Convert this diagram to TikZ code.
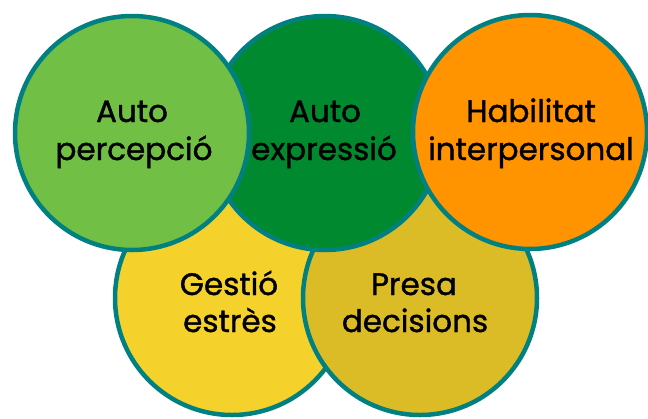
\documentclass[tikz,border=0pt]{standalone}
\usepackage{fontspec}
\setmainfont{Poppins}
\newfontfamily\lblfont{Poppins}[FakeBold=1.2]
\definecolor{lgreen}{RGB}{113,191,68}
\definecolor{dgreen}{RGB}{0,137,47}
\definecolor{orng}{RGB}{255,147,0}
\definecolor{yell}{RGB}{245,210,43}
\definecolor{mustard}{RGB}{219,188,39}
\definecolor{tealb}{RGB}{0,128,128}
\begin{document}
\begin{tikzpicture}[x=1pt,y=-1pt,
  circ/.style={circle,draw=tealb,line width=4.5pt,minimum size=234pt,inner sep=0pt},
  lbl/.style={anchor=base,inner sep=0pt,font=\lblfont\fontsize{31}{38}\selectfont}]
\useasboundingbox (0,0) rectangle (648,418);
% bottom row
\node[circ,fill=yell] (gest) at (232,298) {};
\node[circ,fill=mustard] (presa) at (420,298) {};
% top row
\node[circ,fill=dgreen] (expr) at (325,133) {};
\node[circ,fill=lgreen] (perc) at (132,133) {};
\node[circ,fill=orng] (hab) at (530,132) {};
% labels
\node[lbl] (perc1) at (132,122) {Auto};
\node[lbl] (perc2) at (134,160) {percepció};
\node[lbl] (expr1) at (325,122) {Auto};
\node[lbl] (expr2) at (324,160) {expressió};
\node[lbl] (hab1) at (531,122) {Habilitat};
\node[lbl] (hab2) at (531,160) {interpersonal};
\node[lbl] (gest1) at (229,295) {Gestió};
\node[lbl] (gest2) at (230,332) {estrès};
\node[lbl] (presa1) at (414,295) {Presa};
\node[lbl] (presa2) at (415,332) {decisions};
\end{tikzpicture}
\end{document}
